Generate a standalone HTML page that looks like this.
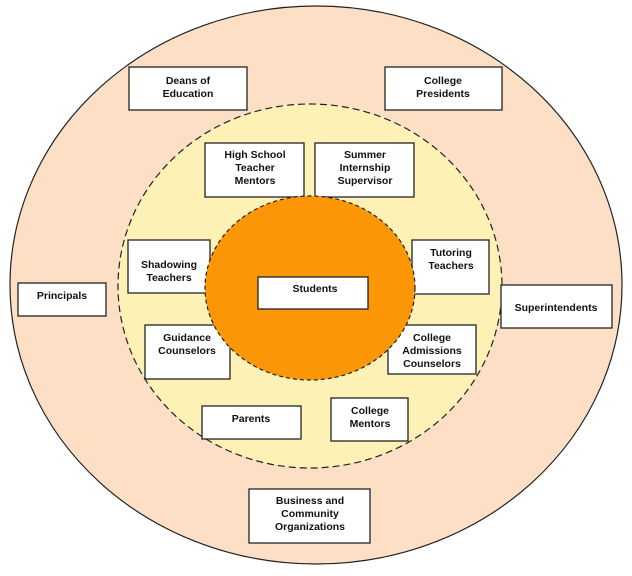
<!DOCTYPE html>
<html><head><meta charset="utf-8"><style>
html,body{margin:0;padding:0;background:#fff;}
svg{display:block;}
text{font-family:"Liberation Sans",Arial,sans-serif;font-weight:bold;font-size:10.5px;fill:#111;text-anchor:middle;}
rect{fill:#fff;stroke:#222;stroke-width:1.3;}
</style></head><body>
<svg width="632" height="576" viewBox="0 0 632 576" xmlns="http://www.w3.org/2000/svg">
<ellipse cx="316" cy="285" rx="306" ry="279" fill="#fcdfc4" stroke="#222" stroke-width="1.2"/>
<ellipse cx="310" cy="286" rx="192" ry="182" fill="#fdf1b6" stroke="#222" stroke-width="1.2" stroke-dasharray="7,4"/>

<rect x="129" y="67" width="118" height="43"/>
<text x="188" y="84">Deans of</text><text x="188" y="97">Education</text>
<rect x="385" y="67" width="117" height="43"/>
<text x="443" y="84">College</text><text x="443" y="97">Presidents</text>
<rect x="205" y="143" width="99" height="54"/>
<text x="255" y="158">High School</text><text x="255" y="171">Teacher</text><text x="255" y="184">Mentors</text>
<rect x="315" y="143" width="99" height="54"/>
<text x="365" y="158">Summer</text><text x="365" y="171">Internship</text><text x="365" y="184">Supervisor</text>
<rect x="128" y="240" width="82" height="53"/>
<text x="169" y="268">Shadowing</text><text x="169" y="281">Teachers</text>
<rect x="412" y="240" width="77" height="54"/>
<text x="451" y="256">Tutoring</text><text x="451" y="269">Teachers</text>
<rect x="145" y="325" width="85" height="54"/>
<text x="187" y="341">Guidance</text><text x="187" y="354">Counselors</text>
<rect x="388" y="325" width="88" height="49"/>
<text x="432" y="341">College</text><text x="432" y="354">Admissions</text><text x="432" y="367">Counselors</text>

<ellipse cx="310" cy="288" rx="105" ry="92" fill="#fb9606" stroke="#222" stroke-width="1.2" stroke-dasharray="4,3"/>

<rect x="258" y="277" width="110" height="32"/>
<text x="315" y="292">Students</text>
<rect x="18" y="283" width="88" height="33"/>
<text x="62" y="299">Principals</text>
<rect x="501" y="285" width="111" height="43"/>
<text x="556" y="311">Superintendents</text>
<rect x="202" y="406" width="99" height="33"/>
<text x="251" y="422">Parents</text>
<rect x="331" y="398" width="77" height="43"/>
<text x="370" y="414">College</text><text x="370" y="427">Mentors</text>
<rect x="249" y="489" width="121" height="54"/>
<text x="310" y="504">Business and</text><text x="310" y="517">Community</text><text x="310" y="530">Organizations</text>
</svg>
</body></html>
